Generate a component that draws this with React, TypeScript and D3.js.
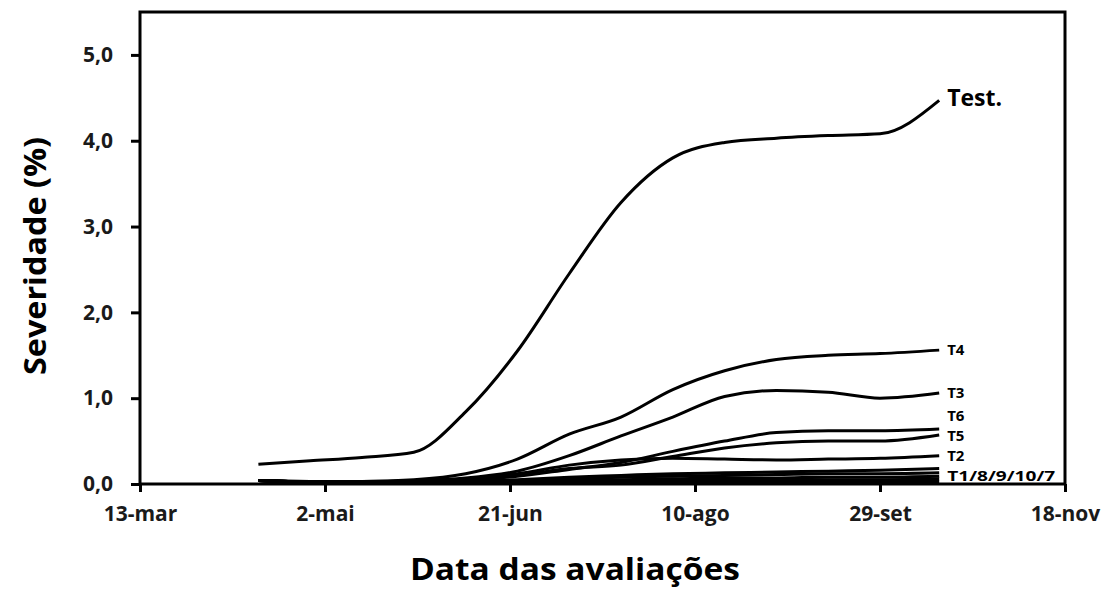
import { useEffect, useRef } from "react"
import * as d3 from "d3"

// evaluation dates
const dates = [
  "2013-04-14", "2013-04-28", "2013-05-12", "2013-05-26", "2013-06-09", "2013-06-23", "2013-07-07",
  "2013-07-21", "2013-08-04", "2013-08-18", "2013-09-01", "2013-09-15", "2013-09-29", "2013-10-15",
]

const seriesNames = ["Test.", "T4", "T3", "T6", "T5", "T2", "T1", "T8", "T9", "T10", "T7"]

const test = [0.23, 0.27, 0.31, 0.37, 0.84, 1.55, 2.45, 3.28, 3.8, 3.98, 4.03, 4.06, 4.08, 4.47]
const t4 = [0.04, 0.03, 0.03, 0.05, 0.12, 0.29, 0.58, 0.78, 1.1, 1.32, 1.45, 1.5, 1.52, 1.56]
const t3 = [0.04, 0.03, 0.03, 0.04, 0.07, 0.15, 0.33, 0.56, 0.78, 1.02, 1.09, 1.07, 1.0, 1.06]
const t6 = [0.04, 0.02, 0.02, 0.03, 0.05, 0.09, 0.17, 0.25, 0.38, 0.5, 0.6, 0.62, 0.62, 0.64]
const t5 = [0.04, 0.02, 0.02, 0.03, 0.05, 0.1, 0.18, 0.22, 0.32, 0.42, 0.48, 0.5, 0.5, 0.57]
const t2 = [0.04, 0.02, 0.02, 0.03, 0.06, 0.12, 0.22, 0.28, 0.3, 0.29, 0.28, 0.29, 0.3, 0.33]
const t1 = [0.04, 0.02, 0.01, 0.02, 0.03, 0.05, 0.08, 0.1, 0.12, 0.13, 0.14, 0.15, 0.16, 0.18]
const t8 = [0.04, 0.02, 0.01, 0.02, 0.03, 0.04, 0.06, 0.08, 0.09, 0.1, 0.11, 0.12, 0.12, 0.13]
const t9 = [0.04, 0.02, 0.01, 0.01, 0.02, 0.03, 0.04, 0.05, 0.06, 0.07, 0.07, 0.08, 0.08, 0.09]
const t10 = [0.04, 0.02, 0.01, 0.01, 0.01, 0.02, 0.03, 0.03, 0.04, 0.04, 0.05, 0.05, 0.05, 0.06]
const t7 = [0.04, 0.02, 0.01, 0.01, 0.01, 0.01, 0.02, 0.02, 0.02, 0.03, 0.03, 0.03, 0.03, 0.03]

const seriesValues = [test, t4, t3, t6, t5, t2, t1, t8, t9, t10, t7]

// end labels (T1/8/9/10/7 grouped)
const endLabels = ["Test.", "T4", "T3", "T6", "T5", "T2", "T1/8/9/10/7"]
const endLabelValues = [4.5, 1.57, 1.06, 0.8, 0.565, 0.33, 0.095]

const xTickDates = ["2013-03-13", "2013-05-02", "2013-06-21", "2013-08-10", "2013-09-29", "2013-11-18"]
const xTickLabels = ["13-mar", "2-mai", "21-jun", "10-ago", "29-set", "18-nov"]
const yTicks = [0, 1, 2, 3, 4, 5]

const parse = d3.timeParse("%Y-%m-%d")

export default function App() {
  const svgRef = useRef<SVGSVGElement>(null)

  useEffect(() => {
    document.body.style.margin = "0"
    if (!svgRef.current) return
    const svg = d3.select(svgRef.current)
    svg.selectAll("*").remove()

    const left = 140, right = 1065, top = 12, bottom = 484
    const font = "'Open Sans', 'DejaVu Sans', sans-serif"

    const x = d3
      .scaleTime()
      .domain([parse(xTickDates[0])!, parse(xTickDates[5])!])
      .range([left, right])
    const y = d3.scaleLinear().domain([0, 5.5]).range([bottom, top])

    const line = d3
      .line<number>()
      .x((_, i) => x(parse(dates[i])!))
      .y((d) => y(d))
      .curve(d3.curveMonotoneX)

    // series
    svg
      .append("g")
      .selectAll("path")
      .data(seriesValues)
      .enter()
      .append("path")
      .attr("d", (d) => line(d))
      .attr("fill", "none")
      .attr("stroke", "#000")
      .attr("stroke-width", 3)

    // frame
    svg
      .append("rect")
      .attr("x", left)
      .attr("y", top)
      .attr("width", right - left)
      .attr("height", bottom - top)
      .attr("fill", "none")
      .attr("stroke", "#000")
      .attr("stroke-width", 3)

    // y axis
    const yAxis = svg
      .append("g")
      .attr("transform", `translate(${left},0)`)
      .call(
        d3
          .axisLeft(y)
          .tickValues(yTicks)
          .tickSize(9)
          .tickPadding(18)
          .tickFormat((d) => d3.format(".1f")(d as number).replace(".", ",")),
      )
    yAxis.select(".domain").remove()
    yAxis.selectAll("line").attr("stroke", "#000").attr("stroke-width", 3)
    yAxis
      .selectAll("text")
      .attr("fill", "#1a1a1a")
      .style("font-family", font)
      .style("font-size", "21px")
      .style("font-weight", "bold")

    // x axis
    const xAxis = svg
      .append("g")
      .attr("transform", `translate(0,${bottom})`)
      .call(
        d3
          .axisBottom(x)
          .tickValues(xTickDates.map((s) => parse(s)!))
          .tickSize(8)
          .tickPadding(14)
          .tickFormat((_, i) => xTickLabels[i]),
      )
    xAxis.select(".domain").remove()
    xAxis.selectAll("line").attr("stroke", "#000").attr("stroke-width", 3)
    xAxis
      .selectAll("text")
      .attr("fill", "#1a1a1a")
      .style("font-family", font)
      .style("font-size", "21px")
      .style("font-weight", "bold")

    // end labels
    const lastX = x(parse(dates[dates.length - 1])!)
    svg
      .append("g")
      .selectAll("text")
      .data(endLabels)
      .enter()
      .append("text")
      .attr("x", lastX + 8)
      .attr("y", (_, i) => y(endLabelValues[i]))
      .attr("dy", "0.35em")
      .attr("fill", "#000")
      .style("font-family", font)
      .style("font-weight", "bold")
      .style("font-size", (_, i) => (i === 0 ? "23px" : "15px"))
      .attr("textLength", (_, i) => (i === 6 ? 108 : null))
      .attr("lengthAdjust", "spacingAndGlyphs")
      .text((d) => d)

    // axis titles
    svg
      .append("text")
      .attr("x", 575)
      .attr("y", 580)
      .attr("text-anchor", "middle")
      .attr("fill", "#000")
      .style("font-family", font)
      .style("font-size", "30px")
      .style("font-weight", "bold")
      .attr("textLength", 330)
      .attr("lengthAdjust", "spacingAndGlyphs")
      .text("Data das avaliações")

    svg
      .append("text")
      .attr("transform", `translate(46,256) rotate(-90)`)
      .attr("text-anchor", "middle")
      .attr("fill", "#000")
      .style("font-family", font)
      .style("font-size", "31px")
      .style("font-weight", "bold")
      .attr("textLength", 238)
      .attr("lengthAdjust", "spacingAndGlyphs")
      .text("Severidade (%)")
  }, [])

  return <svg ref={svgRef} width={1113} height={589} style={{ display: "block", background: "#fff" }} />
}
